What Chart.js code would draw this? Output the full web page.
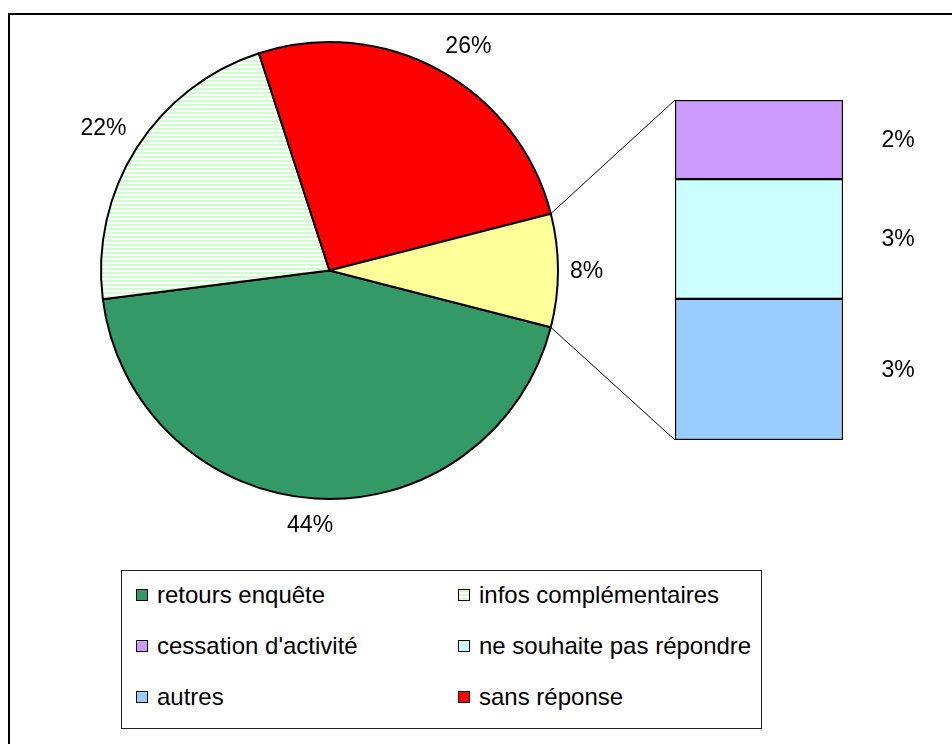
<!DOCTYPE html>
<html>
<head>
<meta charset="utf-8">
<script src="https://cdn.jsdelivr.net/npm/chart.js@4.4.1/dist/chart.umd.min.js"></script>
<style>
  html, body { margin: 0; padding: 0; background: #fff; overflow: hidden; }
  #page { position: relative; width: 952px; height: 744px; overflow: hidden; background: #fff;
          font-family: "Liberation Sans", Arial, sans-serif; }
  #frame { position: absolute; left: 8px; top: 13px; width: 2000px; height: 2000px;
           border: 2px solid #000; box-sizing: border-box; }
  canvas { position: absolute; left: 0; top: 0; }
  #legend { position: absolute; left: 121px; top: 570px; width: 641px; height: 159px;
            border: 1px solid #222; box-sizing: border-box; background: #fff; }
  .item { position: absolute; font-size: 24px; color: #000; white-space: nowrap; line-height: 28px; }
  .swatch { display: inline-block; width: 10px; height: 10px; border: 1px solid #000;
            margin-right: 9px; vertical-align: 2px; }
</style>
</head>
<body>
<div id="page">
  <div id="frame"></div>
  <canvas id="pie" width="952" height="744"></canvas>
  <canvas id="bar" width="952" height="744"></canvas>
  <div id="legend"></div>
</div>
<script>
// pie slices, clockwise from the lower edge of the "other" slice
const pieCategories = ["retours enquête", "infos complémentaires", "sans réponse", "autres réponses"]
const pieValues = [44, 22, 26, 8]
const pieLabels = ["44%", "22%", "26%", "8%"]

// stacked bar that breaks the small slice down, bottom to top
const barCategories = ["autres", "ne souhaite pas répondre", "cessation d'activité"]
const barValues = [3.32, 2.82, 1.86]
const barLabels = ["3%", "3%", "2%"]

// legend, row by row in two columns
const legendLabels = ["retours enquête", "infos complémentaires", "cessation d'activité",
  "ne souhaite pas répondre", "autres", "sans réponse"]

const colors = {
  "retours enquête": "#339966",
  "infos complémentaires": "#ccffcc",
  "sans réponse": "#ff0000",
  "autres réponses": "#ffff99",
  "autres": "#99ccff",
  "ne souhaite pas répondre": "#ccffff",
  "cessation d'activité": "#cc99ff"
}

const FONT = '"Liberation Sans", Arial, sans-serif'

// horizontal light green stripes for "infos complémentaires"
function stripePattern() {
  const c = document.createElement("canvas")
  c.width = 4
  c.height = 4
  const g = c.getContext("2d")
  g.fillStyle = "#ffffff"
  g.fillRect(0, 0, 4, 4)
  g.fillStyle = "#ccffcc"
  g.fillRect(0, 0, 4, 2)
  return g.createPattern(c, "repeat")
}

const pieCtx = document.getElementById("pie").getContext("2d")
const stripes = stripePattern()

const pieFill = pieCategories.map((name) =>
  name === "infos complémentaires" ? stripes : colors[name])

const clamp = (v) => Math.max(-1, Math.min(1, v))

// percentage labels: the corner of the text box nearest the pie sits on the slice's middle ray
const pieLabelPlugin = {
  id: "pieLabels",
  afterDatasetsDraw(chart) {
    const ctx = chart.ctx
    const arcs = chart.getDatasetMeta(0).data
    ctx.save()
    ctx.font = "23px " + FONT
    ctx.fillStyle = "#000"
    ctx.textAlign = "center"
    ctx.textBaseline = "middle"
    arcs.forEach((arc, i) => {
      const p = arc.getProps(["x", "y", "startAngle", "endAngle", "outerRadius"], true)
      const mid = (p.startAngle + p.endAngle) / 2
      const cos = Math.cos(mid)
      const sin = Math.sin(mid)
      const w = ctx.measureText(pieLabels[i]).width
      const h = 28
      const d = p.outerRadius + 12
      const cx = p.x + cos * d + clamp(cos * 3) * w / 2
      const cy = p.y + sin * d + clamp(sin * 3) * h / 2
      ctx.fillText(pieLabels[i], cx, cy + 1)
    })
    ctx.restore()
  }
}

const pieChart = new Chart(pieCtx, {
  type: "pie",
  data: {
    labels: pieCategories,
    datasets: [{
      data: pieValues,
      backgroundColor: pieFill,
      borderColor: "#000",
      borderWidth: 2
    }]
  },
  options: {
    responsive: false,
    animation: false,
    rotation: 104.4,
    layout: { padding: { left: 100, top: 41, right: 393, bottom: 244 } },
    plugins: {
      legend: { display: false },
      tooltip: { enabled: false }
    }
  },
  plugins: [pieLabelPlugin]
})

// lines from the small slice to the bar, and the bar's labels
const barExtrasPlugin = {
  id: "barExtras",
  afterDatasetsDraw(chart) {
    const ctx = chart.ctx
    const arc = pieChart.getDatasetMeta(0).data[pieValues.length - 1]
    const p = arc.getProps(["x", "y", "startAngle", "endAngle", "outerRadius"], true)
    const bottomBar = chart.getDatasetMeta(0).data[0]
    const topBar = chart.getDatasetMeta(barValues.length - 1).data[0]
    const left = bottomBar.x - bottomBar.width / 2

    ctx.save()
    ctx.strokeStyle = "#000"
    ctx.lineWidth = 1
    ctx.beginPath()
    ctx.moveTo(p.x + p.outerRadius * Math.cos(p.startAngle), p.y + p.outerRadius * Math.sin(p.startAngle))
    ctx.lineTo(left, topBar.y)
    ctx.moveTo(p.x + p.outerRadius * Math.cos(p.endAngle), p.y + p.outerRadius * Math.sin(p.endAngle))
    ctx.lineTo(left, bottomBar.base)
    ctx.stroke()

    ctx.font = "23px " + FONT
    ctx.fillStyle = "#000"
    ctx.textAlign = "center"
    ctx.textBaseline = "middle"
    barValues.forEach((v, i) => {
      const el = chart.getDatasetMeta(i).data[0]
      ctx.fillText(barLabels[i], el.x + el.width / 2 + 55, (el.y + el.base) / 2 + 1)
    })
    ctx.restore()
  }
}

const barTotal = barValues.reduce((a, b) => a + b, 0)

new Chart(document.getElementById("bar").getContext("2d"), {
  type: "bar",
  data: {
    labels: ["autres réponses"],
    datasets: barCategories.map((name, i) => ({
      label: name,
      data: [barValues[i]],
      backgroundColor: colors[name],
      borderColor: "#000",
      borderWidth: 1.5,
      borderSkipped: false,
      barPercentage: 1,
      categoryPercentage: 1
    }))
  },
  options: {
    responsive: false,
    animation: false,
    layout: { padding: { left: 675, top: 100, right: 109, bottom: 304 } },
    scales: {
      x: { display: false, stacked: true },
      y: { display: false, stacked: true, min: 0, max: barTotal }
    },
    plugins: {
      legend: { display: false },
      tooltip: { enabled: false }
    }
  },
  plugins: [barExtrasPlugin]
})

// legend box built from the same names and colours
const legend = document.getElementById("legend")
legendLabels.forEach((name, i) => {
  const col = i % 2
  const row = Math.floor(i / 2)
  const item = document.createElement("div")
  item.className = "item"
  item.style.left = (col === 0 ? 14 : 336) + "px"
  item.style.top = (10 + row * 51) + "px"
  const sw = document.createElement("span")
  sw.className = "swatch"
  if (name === "infos complémentaires") {
    sw.style.background = "repeating-linear-gradient(180deg, #ccffcc 0 2px, #fff 2px 4px)"
  } else {
    sw.style.background = colors[name]
  }
  item.appendChild(sw)
  item.appendChild(document.createTextNode(name))
  legend.appendChild(item)
})
</script>
</body>
</html>
